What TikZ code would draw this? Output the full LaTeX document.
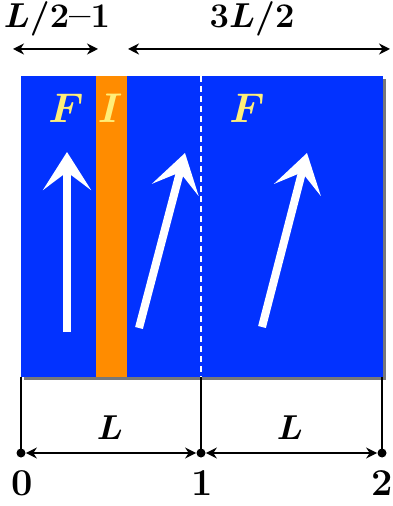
\documentclass[tikz,border=0pt]{standalone}
\usepackage{amsmath,amssymb}
\usepackage{tikz}
\usetikzlibrary{arrows.meta,positioning,calc}
\definecolor{slabblue}{RGB}{2,50,255}
\definecolor{layerorange}{RGB}{255,140,0}
\definecolor{labyellow}{RGB}{255,238,120}
\definecolor{shadowgray}{RGB}{120,120,120}
\tikzset{
  dimarr/.style={{Stealth[length=5.5pt,width=5.5pt]}-{Stealth[length=5.5pt,width=5.5pt]}, black, line width=1pt},
  spinarr/.style={-{Stealth[length=19pt,width=24pt,inset=9pt]}, white, line width=4pt},
  tickline/.style={black, line width=0.8pt},
  enddot/.style={circle, fill=black, inner sep=0pt, minimum size=4.5pt},
  toplab/.style={font=\fontsize{19}{22}\selectfont\bfseries\boldmath},
  seglab/.style={font=\fontsize{18}{20}\selectfont\boldmath},
  phaselab/.style={font=\fontsize{20}{24}\selectfont\boldmath, text=labyellow},
}
\begin{document}
\begin{tikzpicture}[x=0.5pt, y=-0.5pt]
  \useasboundingbox (0,0) rectangle (392,506);
  % slab with shadow
  \fill[shadowgray] (24,79) rectangle (386,380);
  \fill[slabblue] (21,76) rectangle (383,377);
  \fill[layerorange] (96,76) rectangle (127,377);
  \draw[white, line width=1pt, dash pattern=on 3pt off 2pt] (201,76) -- (201,377);
  \node[phaselab] (fL) at (66,108) {$F$};
  \node[phaselab] (iM) at (110,108) {$I$};
  \node[phaselab] (fR) at (247,108) {$F$};
  % magnetisation arrows
  \coordinate (m1a) at (67,332);  \coordinate (m1b) at (67,152);
  \coordinate (m2a) at (139,328); \coordinate (m2b) at (185,153);
  \coordinate (m3a) at (262,327); \coordinate (m3b) at (307,153);
  \draw[spinarr] (m1a) -- (m1b);
  \draw[spinarr] (m2a) -- (m2b);
  \draw[spinarr] (m3a) -- (m3b);
  % top dimensions
  \coordinate (ta) at (13,49);  \coordinate (tb) at (98,49);
  \coordinate (tc) at (128,49); \coordinate (td) at (390,49);
  \draw[dimarr] (ta) -- (tb);
  \draw[dimarr] (tc) -- (td);
  \node[toplab] (lshort) at (57,19) {$L/2$--$1$};
  \node[toplab] (llong) at (252,19) {$3L/2$};
  % bottom scale
  \coordinate (b0) at (21,377); \coordinate (b1) at (201,377); \coordinate (b2) at (382,377);
  \node[enddot] (d0) at (21,453) {};
  \node[enddot] (d1) at (201,453) {};
  \node[enddot] (d2) at (382,453) {};
  \draw[tickline] (b0) -- (d0.center);
  \draw[tickline] (b1) -- (d1.center);
  \draw[tickline] (b2) -- (d2.center);
  \draw[dimarr] (d0) -- (d1);
  \draw[dimarr] (d1) -- (d2);
  \node[seglab] (len1) at (110,428) {$L$};
  \node[seglab] (len2) at (290,428) {$L$};
  \node[toplab] (n0) at (22,483) {0};
  \node[toplab] (n1) at (202,483) {1};
  \node[toplab] (n2) at (382,483) {2};
\end{tikzpicture}
\end{document}
